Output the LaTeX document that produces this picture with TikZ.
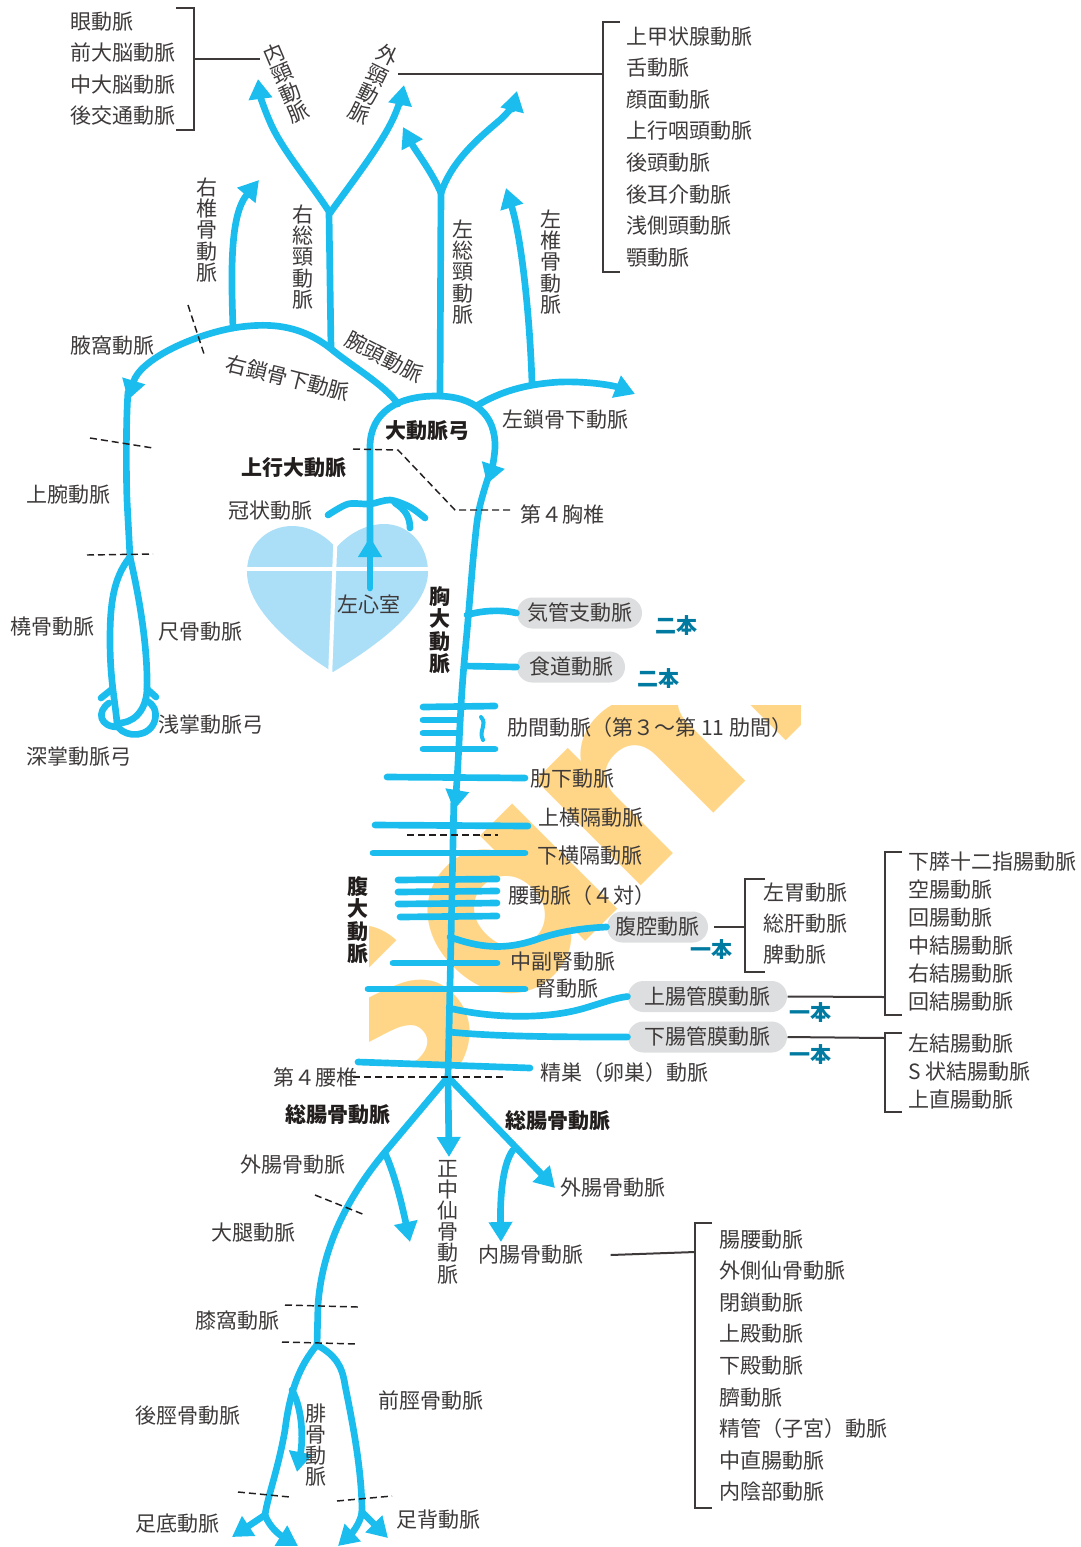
\documentclass[tikz,border=0pt]{standalone}
\usepackage{fontspec}
\setmainfont{Noto Sans CJK JP}
\newfontfamily\wmfont{Poppins}
\usetikzlibrary{arrows.meta}

\definecolor{artery}{RGB}{26,189,238}
\definecolor{heartblue}{RGB}{171,223,248}
\definecolor{pillgray}{RGB}{221,222,223}
\definecolor{inkgray}{RGB}{62,58,58}
\definecolor{inkdark}{RGB}{35,30,30}
\definecolor{tallyblue}{RGB}{0,122,160}
\definecolor{wmorange}{RGB}{255,214,135}

\tikzset{every picture/.style={line width=0.75pt}}
\tikzset{
  vessel/.style={draw=artery, line width=5pt, line cap=round, line join=round},
  flow/.style={vessel, -{Triangle[length=15pt,width=17pt]}},
  lbl/.style={inner sep=0pt, text=inkgray, font=\fontsize{15.75}{19}\selectfont},
  boldlbl/.style={lbl, text=inkdark, font=\fontsize{15.75}{19}\selectfont\bfseries},
  tate/.style={lbl, align=center, font=\fontsize{15.75}{15.9}\selectfont},
  boldtate/.style={tate, text=inkdark, font=\fontsize{15.75}{16.8}\selectfont\bfseries},
  itemlist/.style={lbl, align=left, anchor=north west, font=\fontsize{15.75}{#1}\selectfont},
  itemlist/.default=23.7pt,
  pill/.style={lbl, fill=pillgray, rounded corners=11.5pt, minimum height=23.25pt, minimum width=#1},
  tally/.style={inner sep=0pt, text=tallyblue, font=\fontsize{15.75}{19}\selectfont\bfseries},
  levelline/.style={draw=inkdark, line width=1.1pt, dash pattern=on 5.25pt off 3pt},
  bracket/.style={draw=inkgray, line width=1.5pt},
  wm/.style={inner sep=0pt, text=wmorange, font=\wmfont\bfseries\fontsize{200}{200}\selectfont},
}

\begin{document}
\begin{tikzpicture}[x=0.75pt,y=0.75pt,yscale=-1,xscale=1]
\useasboundingbox (0,0) rectangle (1081,1547);

% watermark, kept behind the vessels
\begin{scope}
\clip (369,705) rectangle (800,1065);
\node[wm, rotate=45, anchor=base west] (wmark) at (385,1142) {Sample};
\end{scope}

% heart
\fill[heartblue] (333,672) .. controls (300,652) and (247,612) .. (247,572) .. controls (247,542) and (270,526) .. (292,526) .. controls (312,526) and (328,538) .. (336,548) .. controls (346,536) and (364,524) .. (384,524) .. controls (410,524) and (428,546) .. (428,572) .. controls (428,612) and (366,652) .. (333,672) -- cycle;
\draw[white, line width=3pt] (336,526) -- (330,678);
\draw[white, line width=3pt] (240,569) -- (435,569);

% pills on the aorta branches
\node[pill=93.75pt] (bronch) at (579.5,613) {気管支動脈};
\node[pill=81pt] (esoph) at (571,667) {食道動脈};
\node[pill=75.75pt] (celiac) at (657.5,927) {腹腔動脈};
\node[pill=119.25pt] (sma) at (707.5,996.5) {上腸管膜動脈};
\node[pill=119.25pt] (ima) at (707.5,1037) {下腸管膜動脈};

% ascending aorta and arch
\draw[flow] (370,588) -- (370,537);
\draw[flow] (370,550) -- (370,447) .. controls (370,412) and (398,396) .. (436,396) .. controls (474,396) and (496,414) .. (495,448) .. controls (494,462) and (491,472) .. (487,484);
% descending aorta
\draw[flow] plot[smooth, tension=0.6] coordinates {(488,478) (479,510) (474,550) (468,620) (462,690) (457,780) (454,810)};
\draw[vessel] (454,795) -- (451,940) -- (448,1077);

% coronary arteries
\draw[vessel] plot[smooth] coordinates {(328,515) (348,504) (370,504) (390,500) (410,507) (425,518)};
\draw[vessel] (395,503) .. controls (406,510) and (410,518) .. (410,528);

% brachiocephalic, right subclavian, right arm
\draw[vessel] (398,404) .. controls (385,385) and (350,365) .. (330,348);
\draw[flow] (330,348) .. controls (300,325) and (270,322) .. (233,328) .. controls (190,336) and (140,360) .. (128,400);
\draw[vessel] (128,392) .. controls (126,420) and (126,470) .. (127,500) -- (130,557);
\draw[vessel] (130,557) .. controls (113,578) and (110,605) .. (110,640) .. controls (110,680) and (115,700) .. (117,723);
\draw[vessel] (130,557) .. controls (140,600) and (148,650) .. (147,690) .. controls (146,712) and (132,724) .. (117,723);
\draw[vessel] (111,690) -- (101,698);
\draw[vessel] (147,689) -- (156,697);
\draw[vessel] (109,703) .. controls (96,712) and (100,727) .. (118,727) .. controls (126,738) and (150,738) .. (155,720) .. controls (157,710) and (153,704) .. (147,701);

% right vertebral and carotids
\draw[flow] (233,328) .. controls (231,270) and (230,215) .. (259,180);
\draw[vessel] (331,348) -- (329,213);
\draw[flow] (330,213) .. controls (310,182) and (282,150) .. (270,122) .. controls (263,106) and (260,95) .. (258,79);
\draw[flow] (330,213) .. controls (355,178) and (385,140) .. (396,112) .. controls (400,102) and (402,95) .. (404,85);

% left carotids, left subclavian, left vertebral
\draw[vessel] (440,396) -- (441,192);
\draw[flow] (441,193) .. controls (432,172) and (415,150) .. (403,127);
\draw[flow] (441,193) .. controls (452,160) and (480,137) .. (500,120) .. controls (510,111) and (514,103) .. (517,91);
\draw[flow] (478,405) .. controls (500,392) and (525,384) .. (560,382) .. controls (590,381) and (615,386) .. (635,394);
\draw[flow] (532,383) .. controls (530,320) and (522,240) .. (506,188);

% thoracic branches
\draw[vessel] (467,615) .. controls (480,611) and (500,609) .. (bronch.west);
\draw[vessel] (465,666) -- (esoph.west);
\draw[vessel] (423,707) -- (495,706);
\draw[vessel] (423,720) -- (459,720);
\draw[vessel] (423,733) -- (459,733);
\draw[vessel] (423,749) -- (495,749);
\draw[vessel, line width=3pt] (481,717) .. controls (488,725) and (478,730) .. (483,740);
\draw[vessel] (387,777) -- (525,778);

% abdominal branches
\draw[vessel] (375,825) -- (528,826);
\draw[vessel] (373,853) -- (525,853);
\draw[vessel] (398,880) -- (497,879);
\draw[vessel] (398,892) -- (497,891);
\draw[vessel] (398,904) -- (497,903);
\draw[vessel] (400,917) -- (497,916);
\draw[vessel] (450,937) .. controls (480,948) and (505,950) .. (535,940) .. controls (560,931) and (585,928) .. (celiac.west);
\draw[vessel] (393,963) -- (497,963);
\draw[vessel] (368,989) -- (525,989);
\draw[vessel] (449,1008) .. controls (490,1018) and (545,1020) .. (585,1008) .. controls (605,1002) and (615,998) .. (sma.west);
\draw[vessel] (449,1032) .. controls (500,1037) and (570,1037) .. (ima.west);
\draw[vessel] (358,1062) -- (530,1068);

% iliac arteries
\draw[vessel] (448,1077) -- (385,1152) .. controls (345,1200) and (322,1250) .. (318,1305) -- (317,1345);
\draw[flow] (385,1153) .. controls (395,1175) and (402,1205) .. (410,1242);
\draw[flow] (448,1077) -- (449,1157);
\draw[flow] (448,1077) -- (555,1188);
\draw[flow] (513,1150) .. controls (502,1165) and (500,1200) .. (501,1242);

% leg
\draw[vessel] (317,1345) .. controls (300,1365) and (290,1390) .. (285,1430) .. controls (278,1470) and (268,1495) .. (265,1515);
\draw[flow] (265,1515) -- (232,1537);
\draw[flow] (265,1515) .. controls (270,1528) and (280,1535) .. (298,1546);
\draw[flow] (292,1390) .. controls (303,1410) and (303,1440) .. (297,1472);
\draw[vessel] (317,1345) .. controls (335,1355) and (342,1365) .. (345,1385) .. controls (352,1420) and (362,1470) .. (362,1512);
\draw[flow] (362,1512) .. controls (360,1525) and (350,1535) .. (338,1546);
\draw[flow] (362,1512) -- (388,1538);

% level lines
\draw[levelline] (188,305) -- (205,357);
\draw[levelline] (90,438) -- (153,448);
\draw[levelline] (87,555) -- (153,554);
\draw[levelline] (353,449) -- (398,450) -- (455,510) -- (513,510);
\draw[levelline] (407,835) -- (498,835);
\draw[levelline] (353,1077) -- (503,1077);
\draw[levelline] (315,1195) -- (365,1215);
\draw[levelline] (285,1305) -- (358,1307);
\draw[levelline] (282,1342) -- (358,1344);
\draw[levelline] (238,1492) -- (290,1497);
\draw[levelline] (337,1501) -- (392,1496);

% head labels
\node[itemlist] (cerebral) at (70,11) {眼動脈\\前大脳動脈\\中大脳動脈\\後交通動脈};
\node[tate, rotate=23] (ica) at (286,83) {内\\頸\\動\\脈};
\node[tate, rotate=-26] (eca) at (373,84) {外\\頸\\動\\脈};
\node[itemlist] (facial) at (626,26) {上甲状腺動脈\\舌動脈\\顔面動脈\\上行咽頭動脈\\後頭動脈\\後耳介動脈\\浅側頭動脈\\顎動脈};
\node[tate] (rvert) at (207,230) {右\\椎\\骨\\動\\脈};
\node[tate] (rcc) at (303,257) {右\\総\\頸\\動\\脈};
\node[tate] (lcc) at (463,272) {左\\総\\頸\\動\\脈};
\node[tate] (lvert) at (551,262) {左\\椎\\骨\\動\\脈};

% brackets
\coordinate (cbtop) at (194,8);
\coordinate (cbbot) at (194,130);
\draw[bracket] (176,8) -- (cbtop) -- (cbbot) -- (176,130);
\draw[bracket] (194,59) -- (260,59);
\coordinate (fbtop) at (603,22);
\coordinate (fbbot) at (603,272);
\draw[bracket] (620,22) -- (fbtop) -- (fbbot) -- (620,272);
\draw[bracket] (398,74) -- (603,74);

% chest and arm labels
\node[lbl, anchor=west] (axillary) at (70,346) {腋窩動脈};
\node[lbl, rotate=-14] (rsub) at (288,378) {右鎖骨下動脈};
\node[lbl, rotate=-27] (brachio) at (384,357) {腕頭動脈};
\node[boldlbl, anchor=west] (arch) at (385,431) {大動脈弓};
\node[boldlbl, anchor=west] (asc) at (241,468) {上行大動脈};
\node[lbl, anchor=west] (coronary) at (228,511) {冠状動脈};
\node[lbl, anchor=west] (lv) at (337,604) {左心室};
\node[lbl, anchor=west] (lsub) at (502,420) {左鎖骨下動脈};
\node[lbl, anchor=west] (th4) at (520,514) {第４胸椎};
\node[lbl, anchor=west] (brachial) at (26,495) {上腕動脈};
\node[lbl, anchor=west] (radial) at (10,627) {橈骨動脈};
\node[lbl, anchor=west] (ulnar) at (158,632) {尺骨動脈};
\node[lbl, anchor=west] (suparch) at (158,725) {浅掌動脈弓};
\node[lbl, anchor=west] (deeparch) at (26,757) {深掌動脈弓};

% aorta labels
\node[boldtate] (thoracic) at (440,630) {胸\\大\\動\\脈};
\node[boldtate] (abdominal) at (358,920) {腹\\大\\動\\脈};
\node[tally, anchor=west] (bronchn) at (655,626) {二本};
\node[tally, anchor=west] (esophn) at (637,679) {二本};
\node[lbl, anchor=west] (intercostal) at (507,728) {肋間動脈（第３～第 11 肋間）};
\node[lbl, anchor=west] (subcostal) at (530,779) {肋下動脈};
\node[lbl, anchor=west] (supphren) at (538,818) {上横隔動脈};
\node[lbl, anchor=west] (infphren) at (537,856) {下横隔動脈};
\node[lbl, anchor=west] (lumbar) at (508,896) {腰動脈（４対）};
\node[tally, anchor=west] (celiacn) at (690,950) {一本};
\node[lbl, anchor=west] (midsupra) at (510,962) {中副腎動脈};
\node[lbl, anchor=west] (renal) at (535,989) {腎動脈};
\node[tally, anchor=west] (sman) at (789,1013) {一本};
\node[tally, anchor=west] (iman) at (789,1055) {一本};
\node[lbl, anchor=west] (gonadal) at (540,1073) {精巣（卵巣）動脈};

% visceral lists
\node[itemlist=23.25pt] (gastric) at (763,882) {左胃動脈\\総肝動脈\\脾動脈};
\draw[bracket] (765,879) -- (745,879) -- (745,972) -- (765,972);
\draw[bracket] ([xshift=4pt]celiac.east) -- (745,927);
\node[itemlist=21pt] (smalist) at (908,851) {下膵十二指腸動脈\\空腸動脈\\回腸動脈\\中結腸動脈\\右結腸動脈\\回結腸動脈};
\draw[bracket] (902,852) -- (885,852) -- (885,1015) -- (902,1015);
\draw[bracket] (sma.east) -- (885,997);
\node[itemlist=21pt] (imalist) at (908,1033) {左結腸動脈\\S 状結腸動脈\\上直腸動脈};
\draw[bracket] (902,1033) -- (885,1033) -- (885,1112) -- (902,1112);
\draw[bracket] (ima.east) -- (885,1038);

% pelvis and leg labels
\node[lbl, anchor=west] (l4) at (273,1077) {第４腰椎};
\node[boldlbl, anchor=west] (rci) at (285,1115) {総腸骨動脈};
\node[boldlbl, anchor=west] (lci) at (505,1121) {総腸骨動脈};
\node[lbl, anchor=west] (rei) at (240,1165) {外腸骨動脈};
\node[lbl, anchor=west] (lei) at (560,1188) {外腸骨動脈};
\node[tate] (msac) at (448,1222) {正\\中\\仙\\骨\\動\\脈};
\node[lbl, anchor=west] (lii) at (478,1255) {内腸骨動脈};
\node[itemlist] (iliaclist) at (719,1229) {腸腰動脈\\外側仙骨動脈\\閉鎖動脈\\上殿動脈\\下殿動脈\\臍動脈\\精管（子宮）動脈\\中直腸動脈\\内陰部動脈};
\draw[bracket] (712,1223) -- (695,1223) -- (695,1508) -- (712,1508);
\draw[bracket] ([xshift=20pt]lii.east) -- (695,1252);
\node[lbl, anchor=west] (femoral) at (211,1233) {大腿動脈};
\node[lbl, anchor=west] (popliteal) at (195,1321) {膝窩動脈};
\node[lbl, anchor=west] (ptib) at (135,1416) {後脛骨動脈};
\node[tate] (fib) at (316,1445) {腓\\骨\\動\\脈};
\node[lbl, anchor=west] (atib) at (378,1401) {前脛骨動脈};
\node[lbl, anchor=west] (plantar) at (135,1524) {足底動脈};
\node[lbl, anchor=west] (dorsal) at (396,1520) {足背動脈};
\end{tikzpicture}
\end{document}
